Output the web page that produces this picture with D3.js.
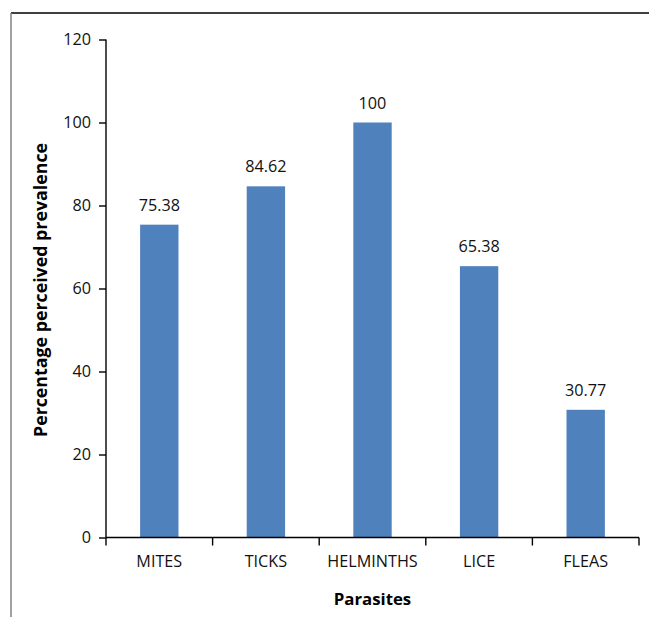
<!DOCTYPE html>
<html>
<head>
<meta charset="utf-8">
<script src="https://cdn.jsdelivr.net/npm/d3@7"></script>
<style>
  html, body { margin: 0; padding: 0; background: #fff; }
  svg { display: block; }
</style>
</head>
<body>
<svg id="chart" width="649" height="617"></svg>
<script>
// Perceived prevalence of parasites (%)
const categories = ["MITES", "TICKS", "HELMINTHS", "LICE", "FLEAS"];
const values = [75.38, 84.62, 100, 65.38, 30.77];
const valueLabels = ["75.38", "84.62", "100", "65.38", "30.77"];
const yTicks = [0, 20, 40, 60, 80, 100, 120];

const W = 649, H = 617;
const plot = { left: 106, right: 639, top: 39.5, bottom: 537.5 };
const font = "'Open Sans', 'Noto Sans', sans-serif";
const barColor = "#4F81BD";
const labelSize = 16.2;

const svg = d3.select("#chart");

// outer frame: dark top rule, grey left rule
svg.append("line")
  .attr("x1", 11).attr("x2", W).attr("y1", 13).attr("y2", 13)
  .attr("stroke", "#000").attr("stroke-width", 1.5);
svg.append("line")
  .attr("x1", 11).attr("x2", 11).attr("y1", 13).attr("y2", H)
  .attr("stroke", "#808080").attr("stroke-width", 1.5);

const x = d3.scaleBand()
  .domain(categories)
  .range([plot.left, plot.right])
  .paddingInner(0.64)
  .paddingOuter(0.32);

const y = d3.scaleLinear()
  .domain([0, 120])
  .range([plot.bottom, plot.top]);

// bars
svg.append("g").selectAll("rect")
  .data(categories)
  .join("rect")
  .attr("x", d => x(d))
  .attr("width", x.bandwidth())
  .attr("y", (d, i) => y(values[i]))
  .attr("height", (d, i) => y(0) - y(values[i]))
  .attr("fill", barColor);

// value labels
svg.append("g").selectAll("text")
  .data(categories)
  .join("text")
  .attr("x", d => x(d) + x.bandwidth() / 2)
  .attr("y", (d, i) => y(values[i]) - 14)
  .attr("text-anchor", "middle")
  .attr("font-family", font)
  .attr("font-size", labelSize)
  .attr("fill", "#111")
  .text((d, i) => valueLabels[i]);

// y axis
const yAxis = svg.append("g")
  .attr("transform", `translate(${plot.left},0)`)
  .call(d3.axisLeft(y).tickValues(yTicks).tickSize(7).tickPadding(8).tickFormat(d3.format("d")));
yAxis.select(".domain").attr("stroke", "#000").attr("stroke-width", 1.4)
  .attr("d", `M0,${plot.top}V${plot.bottom}`);
yAxis.selectAll(".tick line").attr("stroke", "#000").attr("stroke-width", 1.4);
yAxis.selectAll(".tick text")
  .attr("font-family", font).attr("font-size", labelSize).attr("fill", "#111");

// x axis: baseline with ticks at category boundaries
const xg = svg.append("g");
xg.append("line")
  .attr("x1", plot.left).attr("x2", plot.right)
  .attr("y1", y(0)).attr("y2", y(0))
  .attr("stroke", "#000").attr("stroke-width", 1.4);
const bounds = d3.range(categories.length + 1).map(i => plot.left + i * x.step());
xg.selectAll("line.tick")
  .data(bounds)
  .join("line")
  .attr("class", "tick")
  .attr("x1", d => d).attr("x2", d => d)
  .attr("y1", y(0)).attr("y2", y(0) + 8)
  .attr("stroke", "#000").attr("stroke-width", 1.4);
xg.selectAll("text")
  .data(categories)
  .join("text")
  .attr("x", d => x(d) + x.bandwidth() / 2)
  .attr("y", y(0) + 29.5)
  .attr("text-anchor", "middle")
  .attr("font-family", font)
  .attr("font-size", labelSize)
  .attr("fill", "#111")
  .text(d => d);

// axis titles
svg.append("text")
  .attr("x", (plot.left + plot.right) / 2)
  .attr("y", 604.5)
  .attr("text-anchor", "middle")
  .attr("font-family", font)
  .attr("font-size", 16.8)
  .attr("font-weight", "bold")
  .attr("fill", "#000")
  .text("Parasites");

svg.append("text")
  .attr("transform", "translate(46.5,290) rotate(-90)")
  .attr("text-anchor", "middle")
  .attr("font-family", font)
  .attr("font-size", 17.8)
  .attr("font-weight", "bold")
  .attr("fill", "#000")
  .text("Percentage perceived prevalence");
</script>
</body>
</html>
